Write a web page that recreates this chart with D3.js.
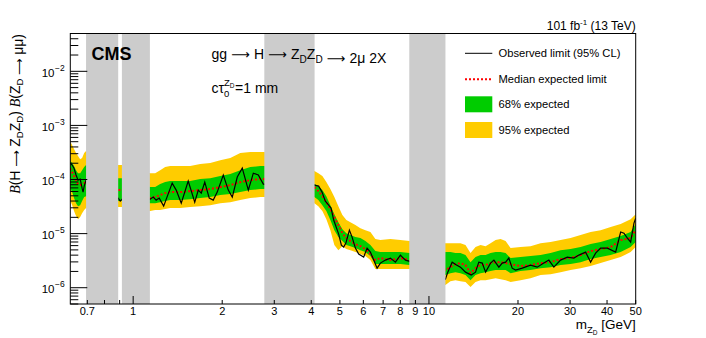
<!DOCTYPE html>
<html><head><meta charset="utf-8">
<script src="https://cdn.jsdelivr.net/npm/d3@7"></script>
<style>body{margin:0;background:#fff} svg{display:block} text{font-family:"Liberation Sans",Arial,Helvetica,sans-serif;fill:#000} .ar{font-family:"DejaVu Sans",sans-serif}</style>
</head><body><svg id="c" width="706" height="338"></svg>
<script>
// ---------- data ----------
const bandMass = [0.612,0.622,0.631,0.641,0.651,0.662,0.672,0.683,0.693, 0.890,0.918,
  1.142,1.187,1.234,1.283,1.334,1.442,1.559,1.686,1.822,1.970,2.130,2.302,2.489,2.690,2.776,
  4.10,4.227,4.361,4.499,4.642,4.788,4.94,5.097,5.258,5.425,5.64,5.864,6.097,6.339,6.591,6.853,7.408,8.008,8.591,
  11.37,11.82,12.29,12.78,13.29,13.82,14.37,14.94,15.54,16.15,16.80,17.46,18.16,18.88,20.40,22.05,23.84,25.77,27.86,30.12,32.56,35.20,38.05,41.14,44.47,48.07,50];
const hi95 = [5.13e-4,4.32e-4,3.65e-4,3.08e-4,2.71e-4,2.38e-4,2.49e-4,3.08e-4,3.35e-4, 1.85e-4,1.85e-4,
  1.31e-4,1.31e-4,1.49e-4,1.70e-4,1.77e-4,1.77e-4,1.77e-4,1.93e-4,2.01e-4,2.28e-4,2.49e-4,3.08e-4,3.21e-4,3.21e-4,3.21e-4,
  1.43e-4,1.31e-4,1.16e-4,8.95e-5,6.65e-5,4.73e-5,3.22e-5,2.20e-5,1.78e-5,1.63e-5,1.44e-5,1.26e-5,1.16e-5,1.07e-5,7.91e-6,7.58e-6,7.91e-6,7.58e-6,7.27e-6,
  6.67e-6,6.67e-6,6.67e-6,6.67e-6,6.13e-6,4.36e-6,5.63e-6,6.13e-6,5.87e-6,6.67e-6,7.58e-6,7.91e-6,7.27e-6,5.40e-6,5.63e-6,5.87e-6,6.67e-6,6.97e-6,7.58e-6,8.26e-6,9.38e-6,1.07e-5,1.16e-5,1.32e-5,1.50e-5,1.85e-5,2.29e-5];
const hi68 = [2.19e-4,2.01e-4,1.77e-4,1.49e-4,1.31e-4,1.31e-4,1.49e-4,1.70e-4,1.85e-4, 1.06e-4,1.06e-4,
  7.24e-5,7.24e-5,8.22e-5,8.95e-5,9.34e-5,9.34e-5,9.34e-5,1.02e-4,1.06e-4,1.16e-4,1.26e-4,1.49e-4,1.70e-4,1.77e-4,1.77e-4,
  8.22e-5,7.55e-5,6.37e-5,4.93e-5,3.36e-5,2.29e-5,1.63e-5,1.21e-5,1.02e-5,9.38e-6,8.62e-6,8.26e-6,7.27e-6,6.13e-6,4.75e-6,4.55e-6,4.55e-6,4.55e-6,4.36e-6,
  4.55e-6,4.55e-6,4.36e-6,4.36e-6,4.01e-6,2.97e-6,3.68e-6,4.01e-6,4.01e-6,4.36e-6,4.55e-6,4.55e-6,4.36e-6,3.53e-6,3.68e-6,3.84e-6,4.01e-6,4.36e-6,4.95e-6,5.17e-6,5.63e-6,6.40e-6,6.97e-6,7.91e-6,8.99e-6,1.07e-5,1.50e-5];
const expected = [1.62e-4,1.37e-4,1.16e-4,9.75e-5,8.22e-5,7.88e-5,8.22e-5,8.58e-5,8.95e-5, 6.37e-5,6.37e-5,
  4.53e-5,4.73e-5,5.15e-5,5.61e-5,5.85e-5,5.85e-5,6.10e-5,6.37e-5,6.65e-5,7.24e-5,7.88e-5,8.95e-5,9.75e-5,1.02e-4,1.02e-4,
  7.24e-5,6.10e-5,4.93e-5,3.82e-5,2.84e-5,2.02e-5,1.44e-5,1.02e-5,8.26e-6,7.27e-6,6.40e-6,5.87e-6,5.17e-6,4.18e-6,3.24e-6,3.53e-6,3.24e-6,3.53e-6,3.24e-6,
  2.12e-6,2.40e-6,2.73e-6,2.85e-6,2.62e-6,1.86e-6,2.30e-6,2.62e-6,2.62e-6,2.85e-6,2.97e-6,2.97e-6,2.85e-6,2.73e-6,2.51e-6,2.62e-6,2.85e-6,2.97e-6,3.38e-6,3.53e-6,4.01e-6,4.75e-6,5.17e-6,5.63e-6,7.58e-6,8.26e-6,1.16e-5];
const lo68 = [6.93e-5,5.85e-5,4.53e-5,3.66e-5,3.22e-5,3.36e-5,3.99e-5,4.73e-5,4.93e-5, 3.99e-5,3.99e-5,
  3.66e-5,3.66e-5,3.82e-5,3.99e-5,4.16e-5,4.16e-5,4.34e-5,4.53e-5,4.73e-5,5.15e-5,5.37e-5,5.85e-5,6.37e-5,6.65e-5,6.65e-5,
  4.73e-5,4.16e-5,3.36e-5,2.61e-5,1.78e-5,1.16e-5,8.62e-6,7.27e-6,6.13e-6,5.87e-6,5.40e-6,4.95e-6,4.55e-6,3.84e-6,2.73e-6,2.73e-6,2.73e-6,2.73e-6,2.62e-6,
  1.71e-6,1.86e-6,1.94e-6,1.86e-6,1.71e-6,1.38e-6,1.71e-6,1.86e-6,1.94e-6,2.03e-6,2.12e-6,2.12e-6,2.12e-6,1.86e-6,2.03e-6,2.12e-6,2.30e-6,2.40e-6,2.62e-6,2.73e-6,2.97e-6,3.38e-6,3.68e-6,4.01e-6,4.55e-6,5.63e-6,6.97e-6];
const lo95 = [4.16e-5,3.36e-5,2.61e-5,2.11e-5,1.85e-5,2.02e-5,2.39e-5,2.72e-5,2.96e-5, 3.09e-5,3.09e-5,
  2.61e-5,2.72e-5,2.72e-5,2.84e-5,2.96e-5,2.96e-5,3.09e-5,3.22e-5,3.36e-5,3.66e-5,3.82e-5,4.16e-5,4.53e-5,4.73e-5,4.73e-5,
  3.66e-5,3.22e-5,2.61e-5,1.85e-5,1.16e-5,6.13e-6,4.95e-6,5.87e-6,5.17e-6,4.95e-6,4.55e-6,4.18e-6,3.84e-6,3.24e-6,2.21e-6,2.21e-6,2.21e-6,2.21e-6,2.21e-6,
  1.12e-6,1.32e-6,1.38e-6,1.32e-6,1.27e-6,1.03e-6,1.27e-6,1.38e-6,1.38e-6,1.44e-6,1.50e-6,1.44e-6,1.38e-6,1.27e-6,1.38e-6,1.50e-6,1.71e-6,1.78e-6,1.94e-6,2.12e-6,2.30e-6,2.51e-6,2.85e-6,3.24e-6,3.68e-6,4.55e-6,5.63e-6];

const obsMass = [0.612,0.622,0.631,0.641,0.651,0.662,0.672,0.677,0.683,0.693, 0.890,0.904,0.918,
  1.142,1.169,1.196,1.225,1.268,1.355,1.398,1.454,1.535,1.615,1.660,1.699,1.746,1.808,1.865,1.924,2.017,2.097,2.163,2.249,2.338,2.451,2.548,2.649,2.754,
  4.108,4.237,4.351,4.464,4.581,4.667,4.763,4.952,5.057,5.149,5.238,5.383,5.497,5.640,5.786,6.016,6.178,6.339,6.506,6.679,6.853,7.125,7.408,7.702,8.008,8.326,8.558,
  11.37,11.58,11.98,12.39,12.78,13.29,13.90,14.37,14.74,15.14,15.54,16.15,16.58,17.23,17.69,18.16,18.62,19.12,19.62,20.68,22.05,23.23,24.46,25.43,26.44,27.86,29.36,30.91,32.13,33.85,35.20,36.60,38.05,40.10,42.77,44.47,45.63,46.86,48.07,49.33,50];
const observed = [2.01e-4,1.85e-4,1.62e-4,1.21e-4,9.75e-5,1.02e-4,6.93e-5,5.85e-5,7.55e-5,9.75e-5, 4.53e-5,3.99e-5,4.34e-5,
  4.34e-5,4.73e-5,4.16e-5,4.53e-5,3.22e-5,8.58e-5,6.37e-5,3.66e-5,9.34e-5,3.82e-5,6.37e-5,5.61e-5,8.95e-5,4.53e-5,4.16e-5,5.85e-5,1.21e-4,6.37e-5,4.73e-5,1.11e-4,1.62e-4,6.37e-5,1.31e-4,1.21e-4,8.22e-5,
  7.88e-5,7.55e-5,5.85e-5,3.99e-5,3.36e-5,2.96e-5,1.78e-5,9.79e-6,6.13e-6,5.63e-6,6.67e-6,1.16e-5,8.62e-6,5.40e-6,4.18e-6,3.68e-6,5.40e-6,4.55e-6,3.24e-6,2.30e-6,2.85e-6,3.24e-6,3.53e-6,2.97e-6,4.01e-6,3.24e-6,3.10e-6,
  1.44e-6,1.94e-6,2.97e-6,2.62e-6,2.40e-6,1.94e-6,1.71e-6,1.94e-6,2.97e-6,2.85e-6,1.94e-6,2.85e-6,3.24e-6,2.40e-6,2.85e-6,2.97e-6,3.53e-6,2.30e-6,2.12e-6,2.30e-6,2.62e-6,2.40e-6,2.85e-6,3.24e-6,2.40e-6,3.24e-6,3.68e-6,3.53e-6,4.01e-6,4.55e-6,2.97e-6,4.36e-6,5.40e-6,5.40e-6,4.55e-6,1.07e-5,1.02e-5,8.26e-6,6.97e-6,1.56e-5,1.93e-5];

const vetoLo = [0.693, 0.916, 2.776, 8.58];
const vetoHi = [0.890, 1.139, 4.105, 11.37];

const xTickValues = [0.7,0.8,0.9,1,2,3,4,5,6,7,8,9,10,20,30,40,50];
const xTickLabels = ["0.7","","","1","2","3","4","5","6","7","8","9","10","20","30","40","50"];
const yDecades = [-2,-3,-4,-5,-6];
const legendLabels = ["Observed limit (95% CL)","Median expected limit","68% expected","95% expected"];

// ---------- layout ----------
const L = 70.3, R = 635.7, T = 33.5, B = 304;
const svg = d3.select("#c");
const x = d3.scaleLog().domain([0.613, 50]).range([L, R]);
const y = d3.scaleLog().domain([5e-7, 0.05]).range([B, T]);

svg.append("defs").append("clipPath").attr("id","clip")
  .append("rect").attr("x",L).attr("y",T).attr("width",R-L).attr("height",B-T);
const g = svg.append("g").attr("clip-path","url(#clip)");

const idx = d3.range(bandMass.length);
const area = (lo, hi) => d3.area().x(i => x(bandMass[i])).y0(i => y(lo[i])).y1(i => y(hi[i]));
g.append("path").attr("d", area(lo95, hi95)(idx)).attr("fill","#ffcc00");
g.append("path").attr("d", area(lo68, hi68)(idx)).attr("fill","#00cc00");
g.append("path").attr("d", d3.line().x(i => x(bandMass[i])).y(i => y(expected[i]))(idx))
  .attr("fill","none").attr("stroke","#ff0000").attr("stroke-width",2).attr("stroke-dasharray","2,2");
g.append("path").attr("d", d3.line().x((d,i) => x(obsMass[i])).y(d => y(d))(observed))
  .attr("fill","none").attr("stroke","#000").attr("stroke-width",1.2);

// veto bands
vetoLo.forEach((lo, i) => {
  g.append("rect").attr("x", x(lo)).attr("y", T).attr("width", x(vetoHi[i]) - x(lo)).attr("height", B - T).attr("fill","#cccccc");
});

// frame
svg.append("rect").attr("x",L).attr("y",T).attr("width",R-L).attr("height",B-T)
  .attr("fill","none").attr("stroke","#000").attr("stroke-width",1);

// x ticks
xTickValues.forEach((v, i) => {
  const major = (v === 1 || v === 10);
  const xx = x(v);
  svg.append("line").attr("x1",xx).attr("x2",xx).attr("y1",B).attr("y2",B - (major ? 8 : 4)).attr("stroke","#000");
  if (xTickLabels[i]) svg.append("text").attr("x",xx).attr("y",315).attr("text-anchor","middle")
    .attr("font-size",11).text(xTickLabels[i]);
});

// y ticks
for (let e = -7; e <= -2; e++) {
  for (let k = 1; k <= 9; k++) {
    const v = k * Math.pow(10, e);
    if (v < 5e-7 * 0.999 || v > 0.05 * 1.001) continue;
    const yy = y(v);
    svg.append("line").attr("x1",L).attr("x2",L + (k === 1 ? 17 : 8)).attr("y1",yy).attr("y2",yy).attr("stroke","#000");
  }
}
yDecades.forEach(e => {
  const yy = y(Math.pow(10, e));
  svg.append("text").attr("x",54.5).attr("y",yy + 5.5).attr("text-anchor","end").attr("font-size",11.5).text("10");
  svg.append("text").attr("x",55).attr("y",yy - 0.5).attr("font-size",8.5).text("\u2212" + (-e));
});

// axis titles
const xt = svg.append("text").attr("x",R).attr("y",329).attr("text-anchor","end").attr("font-size",13.5);
xt.append("tspan").text("m");
xt.append("tspan").attr("font-size",9.5).attr("dy",3.5).text("Z");
xt.append("tspan").attr("font-size",6.5).attr("dy",2.5).text("D");
xt.append("tspan").attr("dy",-6).text(" [GeV]");

const arrow = (sel, fs) => sel.append("tspan").attr("class","ar").attr("font-size",fs).text(" \u27f6 ");

const yt = svg.append("text").attr("transform","translate(20,34) rotate(-90)").attr("text-anchor","end").attr("font-size",14);
yt.append("tspan").attr("font-family","Liberation Serif, serif").attr("font-style","italic").text("B");
yt.append("tspan").text("(H");
arrow(yt, 11.5);
yt.append("tspan").text("Z");
yt.append("tspan").attr("font-size",9.5).attr("dy",3).text("D");
yt.append("tspan").attr("dy",-3).text("Z");
yt.append("tspan").attr("font-size",9.5).attr("dy",3).text("D");
yt.append("tspan").attr("dy",-3).text(") ");
yt.append("tspan").attr("font-family","Liberation Serif, serif").attr("font-style","italic").text("B");
yt.append("tspan").text("(Z");
yt.append("tspan").attr("font-size",9.5).attr("dy",3).text("D");
yt.append("tspan").attr("dy",-3).text("");
arrow(yt, 11.5);
yt.append("tspan").text("\u03bc\u03bc)");

// lumi
const lt = svg.append("text").attr("x",R).attr("y",30).attr("text-anchor","end").attr("font-size",12);
lt.append("tspan").text("101 fb");
lt.append("tspan").attr("font-size",8).attr("dy",-5).text("-1");
lt.append("tspan").attr("dy",5).text(" (13 TeV)");

// CMS
svg.append("text").attr("x",91.5).attr("y",60).attr("font-size",18).attr("font-weight","bold").text("CMS");

// process
const pt = svg.append("text").attr("x",211.5).attr("y",59).attr("font-size",14);
pt.append("tspan").text("gg");
arrow(pt, 13);
pt.append("tspan").text("H");
arrow(pt, 13);
pt.append("tspan").text("Z");
pt.append("tspan").attr("font-size",10).attr("dy",4).text("D");
pt.append("tspan").attr("dy",-4).text("Z");
pt.append("tspan").attr("font-size",10).attr("dy",4).text("D");
pt.append("tspan").attr("dy",-4).text("");
arrow(pt, 13);
pt.append("tspan").text("2\u03bc 2X");

// c tau
const ct = svg.append("text").attr("x",211.5).attr("y",93.3).attr("font-size",14).text("c\u03c4");
const ctw = ct.node().getComputedTextLength();
svg.append("text").attr("x",211.5 + ctw).attr("y",96.5).attr("font-size",9.5).text("0");
const sup = svg.append("text").attr("x",211.5 + ctw).attr("y",86).attr("font-size",9.5);
sup.append("tspan").text("Z");
sup.append("tspan").attr("font-size",6.5).attr("dy",2).text("D");
const supw = sup.node().getComputedTextLength();
svg.append("text").attr("x",211.5 + ctw + supw + 0.5).attr("y",93.3).attr("font-size",14).text("=1 mm");

// legend
const lx0 = 465, lx1 = 492.3, ly = [53.3, 79.3, 104.3, 130];
svg.append("line").attr("x1",lx0).attr("x2",lx1).attr("y1",ly[0]).attr("y2",ly[0]).attr("stroke","#000").attr("stroke-width",1);
svg.append("line").attr("x1",lx0).attr("x2",lx1).attr("y1",ly[1]).attr("y2",ly[1]).attr("stroke","#ff0000").attr("stroke-width",2).attr("stroke-dasharray","2,2");
svg.append("rect").attr("x",lx0).attr("y",ly[2]-8).attr("width",lx1-lx0).attr("height",16).attr("fill","#00cc00");
svg.append("rect").attr("x",lx0).attr("y",ly[3]-8).attr("width",lx1-lx0).attr("height",16).attr("fill","#ffcc00");
legendLabels.forEach((s, i) => {
  svg.append("text").attr("x",498.5).attr("y",ly[i] + 4).attr("font-size",11.2).text(s);
});
</script></body></html>
